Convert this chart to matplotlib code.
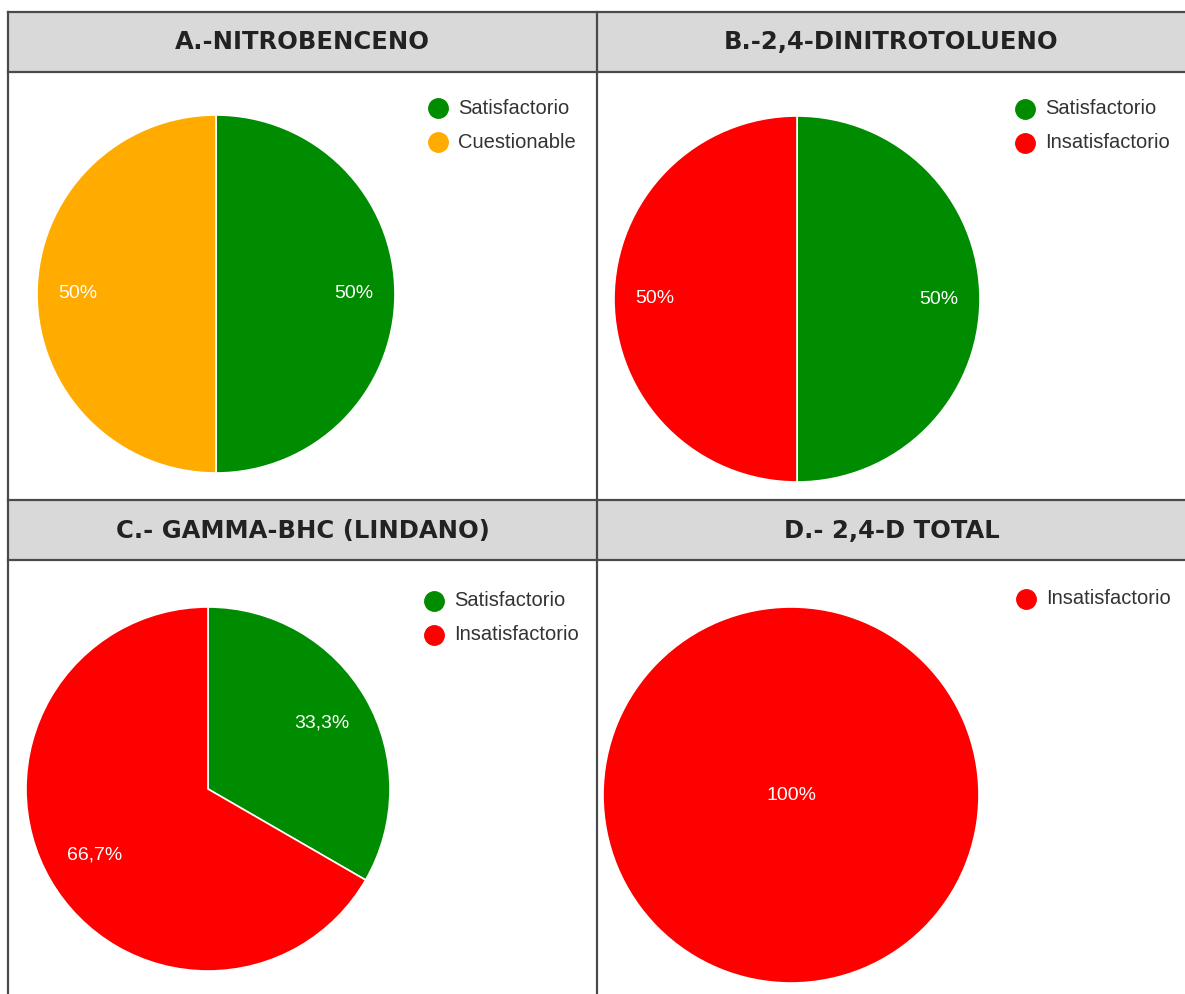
import matplotlib
matplotlib.use("Agg")
import matplotlib.pyplot as plt
from matplotlib.patches import Rectangle

W, H = 1185, 994

# resultados por compuesto (numero de laboratorios en cada categoria)
titles = ["A.-NITROBENCENO", "B.-2,4-DINITROTOLUENO",
          "C.- GAMMA-BHC (LINDANO)", "D.- 2,4-D TOTAL"]
cats_a = ["Satisfactorio", "Cuestionable"]
vals_a = [1, 1]
cats_b = ["Satisfactorio", "Insatisfactorio"]
vals_b = [1, 1]
cats_c = ["Satisfactorio", "Insatisfactorio"]
vals_c = [1, 2]
cats_d = ["Insatisfactorio"]
vals_d = [1]

cat_colors = {"Satisfactorio": "#008c00",
              "Cuestionable": "#ffab00",
              "Insatisfactorio": "#ff0000"}

# geometria de la tabla (pixeles, y hacia abajo)
x_left, x_mid, x_right = 8, 597, 1186
rows = [(12, 72, 500), (500, 560, 995)]  # top, fin cabecera, bottom
pies = [(216, 294, 179), (797, 299, 183), (208, 789, 182), (791, 795, 188)]
pct_dist = [0.77, 0.775, 0.72, 0.0]
legends = [(438, 108), (1025, 109), (434, 601), (1026, 599)]

border = "#4a4a4a"
header_bg = "#d9d9d9"


def Y(y):
    return H - y


def fmt_pct(p):
    s = f"{p:.1f}".replace(".", ",")
    if s.endswith(",0"):
        s = s[:-2]
    return s + "%"


fig = plt.figure(figsize=(W / 100, H / 100), dpi=100)
ax = fig.add_axes([0, 0, 1, 1])

# celdas, cabeceras y bordes
for (top, hb, bot) in rows:
    for (x0, x1) in [(x_left, x_mid), (x_mid, x_right)]:
        ax.add_patch(Rectangle((x0, Y(hb)), x1 - x0, hb - top,
                               facecolor=header_bg, edgecolor="none", zorder=1))
    ax.plot([x_left, x_right], [Y(top), Y(top)], color=border, lw=1.6, zorder=3)
    ax.plot([x_left, x_right], [Y(hb), Y(hb)], color=border, lw=1.6, zorder=3)
ax.plot([x_left, x_left], [Y(12), 0], color=border, lw=1.6, zorder=3)
ax.plot([x_mid, x_mid], [Y(12), 0], color=border, lw=1.6, zorder=3)

header_centers = [((x_left + x_mid) / 2, 42), ((x_mid + x_right) / 2, 42),
                  ((x_left + x_mid) / 2, 531), ((x_mid + x_right) / 2, 531)]
for t, (hx, hy) in zip(titles, header_centers):
    ax.text(hx, Y(hy), t, ha="center", va="center", fontsize=17.5,
            fontweight="bold", color="#222222", family="DejaVu Sans", zorder=4)

all_cats = [cats_a, cats_b, cats_c, cats_d]
all_vals = [vals_a, vals_b, vals_c, vals_d]

for cats, vals, (cx, cy, r), pd_, (lx, ly) in zip(all_cats, all_vals, pies,
                                                   pct_dist, legends):
    cols = [cat_colors[c] for c in cats]
    wedges, _, autotexts = ax.pie(vals, colors=cols, startangle=90, counterclock=False,
                                  center=(cx, Y(cy)), radius=r, autopct=fmt_pct,
                                  pctdistance=pd_,
                                  wedgeprops=dict(edgecolor="white", linewidth=1.2),
                                  frame=True)
    for at in autotexts:
        at.set_color("white")
        at.set_fontsize(14)
        at.set_family("Liberation Sans")
    # leyenda a la derecha de cada tarta
    for i, c in enumerate(cats):
        yy = Y(ly + 34 * i)
        ax.plot(lx, yy, "o", ms=14, color=cat_colors[c], zorder=5)
        ax.text(lx + 20, yy, c, ha="left", va="center", fontsize=14.5,
                color="#333333", family="Liberation Sans", zorder=5)

ax.set_xlim(0, W)
ax.set_ylim(0, H)
ax.set_aspect("auto")
ax.axis("off")

fig.savefig("out.png", dpi=100, facecolor="white")
